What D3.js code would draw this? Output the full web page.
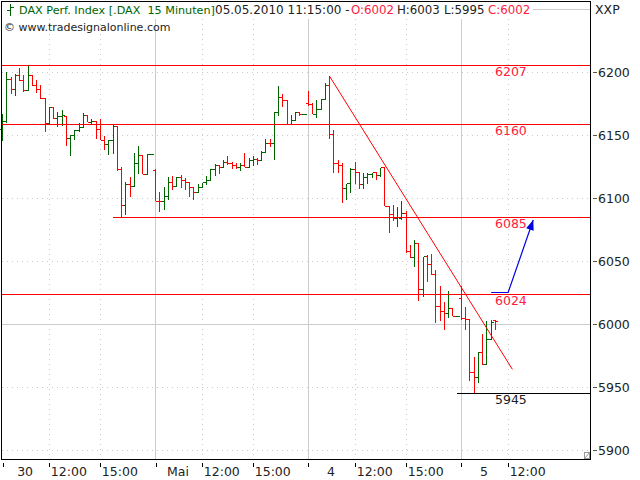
<!DOCTYPE html>
<html>
<head>
<meta charset="utf-8">
<script src="https://cdn.jsdelivr.net/npm/d3@7"></script>
<style>
  body { margin: 0; background: #fff; }
  svg { display: block; }
  text { font-family: "DejaVu Sans", sans-serif; font-size: 12.5px; fill: #222; }
</style>
</head>
<body>
<div id="chart"></div>
<script>
// 15 minute bars
var opens = [6154.5,6161,6194,6186.5,6197.5,6193,6185,6197,6189.5,6186.5,6179,6159.5,6171.5,6163,6165,6165,6147.5,6150,6153.5,6156,6165.5,6160,6161,6154.5,6146,6142.5,6145.5,6156.5,6123,6094,6111,6109.5,6127,6134,6119,6134.5,6122,6097.5,6097,6101,6112,6109.5,6116,6113.5,6112.5,6108,6104,6108.5,6112,6114,6123,6126,6124.5,6128,6127.5,6126,6124.5,6126,6124.5,6130,6130.5,6130,6136,6143.5,6143.3,6168,6180,6177,6158.5,6161.5,6168,6166,6175,6174,6166.5,6170.5,6178,6189,6150.5,6127.5,6126,6107.5,6111.5,6123,6120,6111,6116.5,6119,6120,6118,6124,6093,6087,6084,6084,6087.5,6057.5,6052.5,6063.5,6027,6053.5,6047,6039,6013.5,6010,6008,6012,6006,6020,6004.5,6003.5,5961.5,5957.5,5977.5,5967.5,5988,6002.4];
var highs = [6166.5,6200,6196,6198.5,6203,6197.5,6205,6197.5,6193.5,6189.5,6179,6172,6171.5,6168,6170,6165,6150,6154,6159.5,6167.5,6165.5,6162.5,6161,6162.5,6149,6146,6158,6156.5,6124.5,6112.5,6116.5,6136,6141.5,6134,6135,6134.5,6123,6105,6108.5,6116.5,6117.5,6116.5,6118,6116,6113,6109,6111,6112,6117.5,6123,6127,6126,6130,6133.5,6128.5,6128,6128,6136,6132,6133.5,6131.5,6137,6147,6147,6168.5,6189,6182.5,6177,6166,6168,6168.5,6166,6185,6175.5,6178,6178.5,6191,6196.5,6154,6130,6128,6111.5,6123.5,6128.5,6120,6119.5,6120,6120,6121,6124,6124,6093.5,6094.5,6093,6097.5,6089.5,6063,6067,6063.5,6053.5,6055,6055.5,6043,6030,6017.5,6026,6012,6006,6030,6013.5,6004,5974,5978,5992,6002,6003,6003];
var lows = [6145.5,6159.5,6182.5,6181,6193,6184.5,6185,6189,6183.5,6178.5,6152,6158.5,6163,6156,6157,6141.5,6133.5,6146,6152,6156,6160,6158.5,6147,6146,6138,6134,6135,6121.5,6085,6086.5,6101,6109.5,6119,6119,6119,6134.5,6097.5,6089,6090.5,6098.5,6106.5,6108.5,6108,6106.5,6101,6098.5,6104,6108,6110.5,6113.5,6117.5,6119,6124,6126.5,6123,6123,6121.5,6124.5,6124.5,6125.5,6126,6129,6136,6140.5,6130,6165,6172,6158,6158,6161.5,6165,6166,6173,6166.5,6163.5,6170,6178,6147,6120,6120,6096,6098.5,6104,6111.5,6107.5,6107,6111,6116,6114.5,6117,6093.5,6072,6082,6077,6082.5,6056,6052.5,6045.5,6018.5,6021.5,6033.5,6039,6000.5,6002.5,5995,6005,6006,6006,6003,5995,5955,5945,5953,5967.5,5967.5,5987,5995];
var closes = [6161,6194,6186.5,6197.5,6193,6185,6197,6189.5,6186.5,6179,6159.5,6171.5,6163,6165,6165.2,6147.5,6150,6153.5,6156,6165.5,6160,6161,6154.5,6146,6142.5,6145.5,6156.5,6123,6094,6111,6109.5,6127,6134,6119,6134.5,6134.5,6097.5,6097,6101,6112,6109.5,6116,6113.5,6112.5,6108,6104,6108.5,6112,6114,6123,6126,6124.5,6128,6127.5,6126,6124.5,6126,6124.5,6130,6130.5,6130,6136,6143.5,6143.3,6168,6180,6177,6158.5,6161.5,6168,6166,6166,6174,6166.5,6170.5,6178,6189,6150.5,6127.5,6126,6107.5,6111.5,6123,6120,6111,6116.5,6119,6120,6118,6124,6093,6087,6084,6084.5,6087.5,6057.5,6052.5,6063.5,6027,6053.5,6047,6039,6013.5,6010,6008,6012,6006,6006,6004.5,6003.5,5961.5,5957.5,5977.5,5967.5,5988,6001.5,6002];

var priceTicks = [6200, 6150, 6100, 6050, 6000, 5950, 5900];
var timeTicks = [0, 11, 23, 36, 47, 59, 72, 83, 95, 108, 119];
var timeLabels = ["30", "12:00", "15:00", "Mai", "12:00", "15:00", "4", "12:00", "15:00", "5", "12:00"];
var dayTicks = [36, 72, 108];

// support / resistance lines, the value in the label differs a bit from where it is drawn
var levelValues = [6205, 6158.5, 6084.7, 6023.6, 5945];
var levelStarts = [0, 0, 26, 0, 107];
var levelLabels = ["6207", "6160", "6085", "6024", "5945"];
var levelColors = ["#ff0000", "#ff0000", "#ff0000", "#ff0000", "#000000"];
var trendIdx = [77, 120];
var trendVal = [6196.5, 5964];
var arrowIdx = [115, 119, 124.9];
var arrowVal = [6025, 6025, 6082.5];

var green = "#006400", red = "#ff0000", grid = "#cccccc";
var width = 640, height = 480;
var frameL = 1.5, frameR = 590.5, frameT = 1.5, frameB = 459.5;

var svg = d3.select("#chart").append("svg").attr("width", width).attr("height", height);

var x = d3.scaleLinear().domain([0, 116]).range([2.6, 495.4]);
var y = d3.scaleLinear().domain([6200, 5900]).range([72, 450]);

function px(v) { return Math.floor(v) + 0.5; }

// grid
var gridG = svg.append("g").attr("shape-rendering", "crispEdges");
priceTicks.forEach(function (p) {
    gridG.append("line")
        .attr("x1", frameL).attr("x2", frameR)
        .attr("y1", px(y(p))).attr("y2", px(y(p)))
        .attr("stroke", grid)
        .attr("stroke-dasharray", p == 6000 ? null : "1,4");
});
timeTicks.forEach(function (t) {
    if (t == 0) return;
    var isDay = dayTicks.indexOf(t) >= 0;
    gridG.append("line")
        .attr("x1", px(x(t))).attr("x2", px(x(t)))
        .attr("y1", 19).attr("y2", frameB)
        .attr("stroke", grid)
        .attr("stroke-dasharray", isDay ? null : "1,4");
});

// OHLC bars
var bars = svg.append("g").attr("shape-rendering", "crispEdges")
    .selectAll("g").data(d3.range(opens.length)).enter().append("g")
    .attr("stroke", function (i) { return closes[i] >= opens[i] ? green : red; });
bars.append("line")
    .attr("x1", function (i) { return px(x(i)); })
    .attr("x2", function (i) { return px(x(i)); })
    .attr("y1", function (i) { return y(highs[i]); })
    .attr("y2", function (i) { return y(lows[i]); });
bars.append("line")
    .attr("x1", function (i) { return px(x(i)) - 2.5; })
    .attr("x2", function (i) { return px(x(i)); })
    .attr("y1", function (i) { return px(y(opens[i])); })
    .attr("y2", function (i) { return px(y(opens[i])); });
bars.append("line")
    .attr("x1", function (i) { return px(x(i)); })
    .attr("x2", function (i) { return px(x(i)) + 2.5; })
    .attr("y1", function (i) { return px(y(closes[i])); })
    .attr("y2", function (i) { return px(y(closes[i])); });

// levels
levelValues.forEach(function (v, i) {
    svg.append("line")
        .attr("shape-rendering", "crispEdges")
        .attr("x1", levelStarts[i] == 0 ? frameL : x(levelStarts[i])).attr("x2", frameR)
        .attr("y1", px(y(v))).attr("y2", px(y(v)))
        .attr("stroke", levelColors[i]);
    svg.append("text")
        .attr("x", 495)
        .attr("y", px(y(v)) + 7)
        .attr("dominant-baseline", "middle")
        .style("fill", levelColors[i] == "#000000" ? "#222" : "#ff2040")
        .text(levelLabels[i]);
});

// trend line
var line = d3.line()
    .x(function (d) { return x(d[0]); })
    .y(function (d) { return y(d[1]); });
svg.append("path")
    .attr("d", line(d3.zip(trendIdx, trendVal)))
    .attr("fill", "none").attr("stroke", red).attr("stroke-width", 1);

// blue arrow
var arrowPts = d3.zip(arrowIdx, arrowVal);
svg.append("path")
    .attr("d", line(arrowPts))
    .attr("fill", "none").attr("stroke", "#0000e0").attr("stroke-width", 1.2);
var tip = [x(arrowIdx[2]), y(arrowVal[2])];
var angle = Math.atan2(y(arrowVal[2]) - y(arrowVal[1]), x(arrowIdx[2]) - x(arrowIdx[1]));
var headLen = 10, headW = 4;
svg.append("polygon")
    .attr("points", [
        tip,
        [tip[0] - headLen * Math.cos(angle) + headW * Math.sin(angle), tip[1] - headLen * Math.sin(angle) - headW * Math.cos(angle)],
        [tip[0] - headLen * Math.cos(angle) - headW * Math.sin(angle), tip[1] - headLen * Math.sin(angle) + headW * Math.cos(angle)]
    ].join(" "))
    .attr("fill", "#0000e0");

// frame
svg.append("rect")
    .attr("shape-rendering", "crispEdges")
    .attr("x", frameL).attr("y", frameT)
    .attr("width", frameR - frameL).attr("height", frameB - frameT)
    .attr("fill", "none").attr("stroke", "#000");

// resize grip in the corner
svg.append("rect").attr("shape-rendering", "crispEdges")
    .attr("x", 584.5).attr("y", 452.5).attr("width", 5).attr("height", 6)
    .attr("fill", "#fff").attr("stroke", "#999");
svg.append("line").attr("x1", 585).attr("y1", 458).attr("x2", 589).attr("y2", 453).attr("stroke", "#999");

// price axis
var yAxis = d3.axisRight(y).tickValues(priceTicks).tickSize(4).tickPadding(1).tickFormat(d3.format("d"));
var yG = svg.append("g").attr("transform", "translate(593,0)").call(yAxis);
yG.select(".domain").remove();
yG.selectAll("line").attr("stroke", "#555").attr("shape-rendering", "crispEdges");
yG.attr("font-family", null).attr("font-size", null);

// time axis
var xAxis = d3.axisBottom(x).tickValues(timeTicks).tickSize(4)
    .tickFormat(function (d) { return timeLabels[timeTicks.indexOf(d)]; });
var xG = svg.append("g").attr("transform", "translate(0,463)").call(xAxis);
xG.select(".domain").remove();
xG.attr("font-family", null).attr("font-size", null);
xG.selectAll("line").attr("stroke", "#000").attr("shape-rendering", "crispEdges");
xG.selectAll("text")
    .attr("y", 13)
    .attr("dy", null)
    .attr("text-anchor", function (d) { return timeLabels[timeTicks.indexOf(d)].length > 3 ? "start" : "middle"; })
    .attr("x", function (d) { return timeLabels[timeTicks.indexOf(d)].length > 3 ? 1 : 22; });

// header, font sizes picked so each part fills the width it has in the reference
var header = svg.append("g");
header.append("line").attr("x1", 533).attr("x2", 590).attr("y1", 9.5).attr("y2", 9.5).attr("stroke", grid);
header.append("path").attr("d", "M10.5 4V16M7 10.5H10.5M10.5 7.5H14")
    .attr("stroke", green).attr("fill", "none").attr("shape-rendering", "crispEdges");
var headerParts = [
    ["DAX Perf. Index [.DAX  15 Minuten]", 19, green, 11.2],
    ["05.05.2010 11:15:00 -", 215, "#222", 12],
    ["O:6002", 351, "#ff2040", 11.8],
    ["H:6003", 397, "#222", 11.8],
    ["L:5995", 444, "#222", 11.8],
    ["C:6002", 488, "#ff2040", 11.8]
];
headerParts.forEach(function (p) {
    header.append("text").attr("x", p[1]).attr("y", 14)
        .style("white-space", "pre")
        .style("font-size", p[3] + "px")
        .style("fill", p[2]).text(p[0]);
});
svg.append("text").attr("x", 4).attr("y", 31)
    .style("font-size", "11px")
    .text("© www.tradesignalonline.com");
svg.append("text").attr("x", 595).attr("y", 14).text("XXP");
</script>
</body>
</html>
